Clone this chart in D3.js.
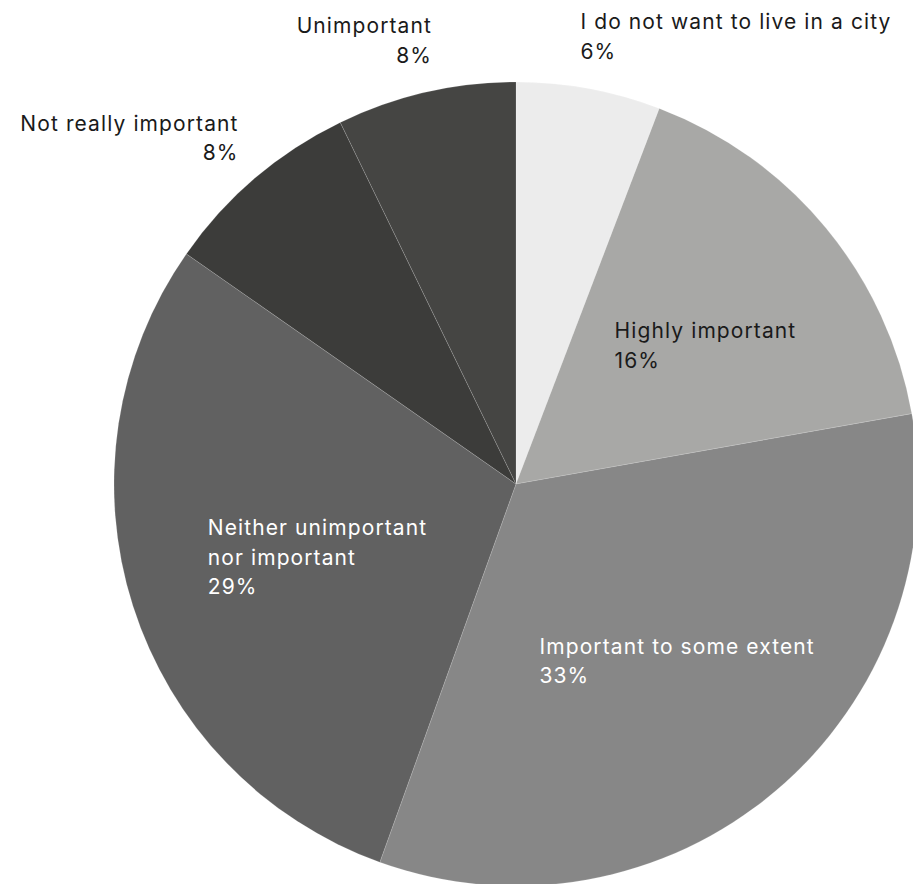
<!DOCTYPE html>
<html>
<head>
<meta charset="utf-8">
<script src="https://cdn.jsdelivr.net/npm/d3@7"></script>
<style>
  html, body { margin: 0; padding: 0; background: #ffffff; }
  svg { display: block; }
  text { font-family: Inter, "Noto Sans", sans-serif; font-size: 21px; letter-spacing: 1.1px; }
</style>
</head>
<body>
<svg id="chart" width="913" height="884"></svg>
<script>
const categories = [
  "I do not want to live in a city",
  "Highly important",
  "Important to some extent",
  "Neither unimportant nor important",
  "Not really important",
  "Unimportant"
];
// slice shares (percent)
const values = [5.8, 16.4, 33.3, 29.2, 8.1, 7.2];
// percentages as printed on the chart
const pctLabels = ["6%", "16%", "33%", "29%", "8%", "8%"];
const labelLines = [
  ["I do not want to live in a city"],
  ["Highly important"],
  ["Important to some extent"],
  ["Neither unimportant", "nor important"],
  ["Not really important"],
  ["Unimportant"]
];
const insideFlags = [false, true, true, true, false, false];
const sliceColors = ["#ececec", "#a8a8a6", "#878787", "#616161", "#3c3c3a", "#454543"];
const labelColors = ["#1a1a1a", "#1a1a1a", "#ffffff", "#ffffff", "#1a1a1a", "#1a1a1a"];

const W = 913, H = 884;
const cx = 516, cy = 484, R = 402;
const fs = 21, lineH = 29.5, capH = 0.727 * fs;

const svg = d3.select("#chart");
const g = svg.append("g").attr("transform", `translate(${cx},${cy})`);

const color = d3.scaleOrdinal().domain(categories).range(sliceColors);
const textColor = d3.scaleOrdinal().domain(categories).range(labelColors);

const data = categories.map((c, i) => ({
  cat: c, value: values[i], inside: insideFlags[i],
  lines: labelLines[i].concat([pctLabels[i]])
}));

const pie = d3.pie().sort(null).value(d => d.value);
const arcs = pie(data);
const arc = d3.arc().innerRadius(0).outerRadius(R);

g.selectAll("path.slice")
  .data(arcs)
  .join("path")
  .attr("class", "slice")
  .attr("d", arc)
  .attr("fill", d => color(d.data.cat))
  .attr("stroke", "rgba(255,255,255,0.25)")
  .attr("stroke-width", 0.6);

const inner = arcs.filter(d => d.data.inside);
const outer = arcs.filter(d => !d.data.inside);

const innerArc = d3.arc().innerRadius(R * 0.56).outerRadius(R * 0.56);

function addLines(t, lines, x) {
  return lines.map((ln, i) => t.append("tspan").attr("x", x).attr("y", i * lineH).text(ln));
}

// inside labels: left-aligned block centred near the centroid
inner.forEach(d => {
  const [px, py] = innerArc.centroid(d);
  const n = d.data.lines.length;
  const t = g.append("text").attr("fill", textColor(d.data.cat));
  const spans = addLines(t, d.data.lines, 0);
  const w = d3.max(spans, s => s.node().getComputedTextLength());
  const blockH = (n - 1) * lineH + capH;
  const x0 = px - w / 2 + 16;
  const y0 = py - blockH / 2 + capH + 5;
  t.attr("transform", `translate(${x0},${y0})`);
});

// outside labels: inner edge of block at the mid-angle, vertically centred
const outerR = 455;
outer.forEach(d => {
  const a = (d.startAngle + d.endAngle) / 2;
  const px = Math.sin(a) * outerR;
  const py = -Math.cos(a) * outerR;
  const right = Math.sin(a) >= 0;
  const x = px + (right ? -18 : 18);
  const n = d.data.lines.length;
  const blockH = (n - 1) * lineH + capH;
  const y0 = py - blockH / 2 + capH;
  const t = g.append("text")
    .attr("fill", textColor(d.data.cat))
    .attr("text-anchor", right ? "start" : "end")
    .attr("transform", `translate(0,${y0})`);
  addLines(t, d.data.lines, x);
});
</script>
</body>
</html>
